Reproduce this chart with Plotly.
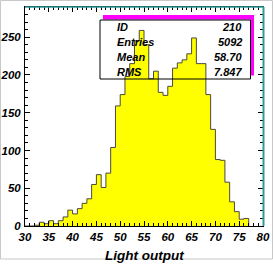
import plotly.graph_objects as go

# ---- data ----
bin_low = list(range(30, 77))          # lower bin edges, width 1
counts = [0, 0, 1, 5, 3, 7, 3, 7, 12, 21, 16, 23, 30, 36, 55, 68, 51, 70,
          104, 159, 174, 198, 215, 245, 259, 240, 195, 205, 177, 173, 185,
          209, 216, 220, 228, 249, 215, 215, 174, 128, 88, 87, 58, 32, 19, 9, 10]
bin_width = 1
x_ticks = [30, 35, 40, 45, 50, 55, 60, 65, 70, 75, 80]
y_ticks = [0, 50, 100, 150, 200, 250]
stat_names = ["ID", "Entries", "Mean", "RMS"]
stat_values = ["210", "5092", "58.70", "7.847"]
x_title = "Light output"

# ---- geometry helpers (pixel -> paper) ----
W, H = 273, 265
L, R, T, B = 25, 263, 7, 226
pw, ph = R - L, B - T
def px(x): return (x - L) / pw
def py(y): return (B - y) / ph

edges = bin_low + [bin_low[-1] + bin_width]
step_y = counts + [0]

fnt = dict(family="Liberation Sans, Arial, sans-serif", size=11.5,
           color="black", weight="bold", style="italic")

fig = go.Figure()
fig.add_trace(go.Scatter(
    x=edges, y=step_y, mode="lines", line_shape="hv",
    line=dict(color="#4a4a3a", width=1),
    fill="tozeroy", fillcolor="#ffff00", hoverinfo="skip", showlegend=False))

fig.update_layout(
    width=W, height=H,
    margin=dict(l=L, r=W - R, t=T, b=H - B, autoexpand=False),
    paper_bgcolor="white", plot_bgcolor="white",
    showlegend=False,
    xaxis=dict(range=[30, 80], tickvals=x_ticks, ticks="inside", ticklen=5,
               tickcolor="black", tickwidth=1,
               minor=dict(dtick=1, ticks="inside", ticklen=3, tickcolor="black"),
               showline=True, linecolor="black", linewidth=1, mirror="ticks",
               showgrid=False, zeroline=False, tickfont=fnt, ticklabelstandoff=0),
    yaxis=dict(range=[0, 290], tickvals=y_ticks, ticks="inside", ticklen=5,
               tickcolor="black", tickwidth=1,
               minor=dict(dtick=10, ticks="inside", ticklen=3, tickcolor="black"),
               showline=True, linecolor="black", linewidth=1, mirror="ticks",
               showgrid=False, zeroline=False, tickfont=fnt, ticklabelstandoff=1),
)

shapes = []
# teal frame top and right
shapes.append(dict(type="line", xref="paper", yref="paper",
                   x0=0, x1=px(264), y0=py(T), y1=py(T),
                   line=dict(color="#2f9a9a", width=1.5), layer="above"))
shapes.append(dict(type="line", xref="paper", yref="paper",
                   x0=px(263.5), x1=px(263.5), y0=0, y1=py(T),
                   line=dict(color="#2f9a9a", width=2), layer="above"))
# magenta shadow of stats box
shapes.append(dict(type="rect", xref="paper", yref="paper",
                   x0=px(103), x1=px(254), y0=py(19.5), y1=py(15),
                   fillcolor="#ff00ff", line=dict(width=0), layer="above"))
shapes.append(dict(type="rect", xref="paper", yref="paper",
                   x0=px(250.5), x1=px(254), y0=py(75.5), y1=py(15),
                   fillcolor="#ff00ff", line=dict(width=0), layer="above"))
# stats box border (transparent)
shapes.append(dict(type="rect", xref="paper", yref="paper",
                   x0=px(100), x1=px(250.5), y0=py(79), y1=py(20),
                   line=dict(color="black", width=1), fillcolor="rgba(0,0,0,0)",
                   layer="above"))
# outer light grey border of picture
shapes.append(dict(type="rect", xref="paper", yref="paper",
                   x0=px(0.5), x1=px(272.5), y0=py(259), y1=py(0.5),
                   line=dict(color="#c8c8c8", width=1), fillcolor="rgba(0,0,0,0)",
                   layer="below"))
fig.update_layout(shapes=shapes)

ann = []
rows_y = [26.7, 42.3, 57.3, 72.3]
sfont = dict(family="Liberation Sans, Arial, sans-serif", size=11,
             color="black", weight="bold", style="italic")
for name, val, yy in zip(stat_names, stat_values, rows_y):
    ann.append(dict(xref="paper", yref="paper", x=px(115), y=py(yy),
                    xanchor="left", yanchor="middle", text=name,
                    showarrow=False, font=sfont))
    ann.append(dict(xref="paper", yref="paper", x=px(243.5), y=py(yy),
                    xanchor="right", yanchor="middle", text=val,
                    showarrow=False, font=sfont))
ann.append(dict(xref="paper", yref="paper", x=px(144), y=py(255),
                xanchor="center", yanchor="middle", text=x_title, showarrow=False,
                font=dict(family="Liberation Sans, Arial, sans-serif", size=13.5,
                          color="black", weight="bold", style="italic")))
fig.update_layout(annotations=ann)

fig.write_html("out.html",
               config={"displayModeBar": False, "staticPlot": True},
               post_script="document.body.style.margin='0';"
                           "document.body.style.overflow='hidden';")
